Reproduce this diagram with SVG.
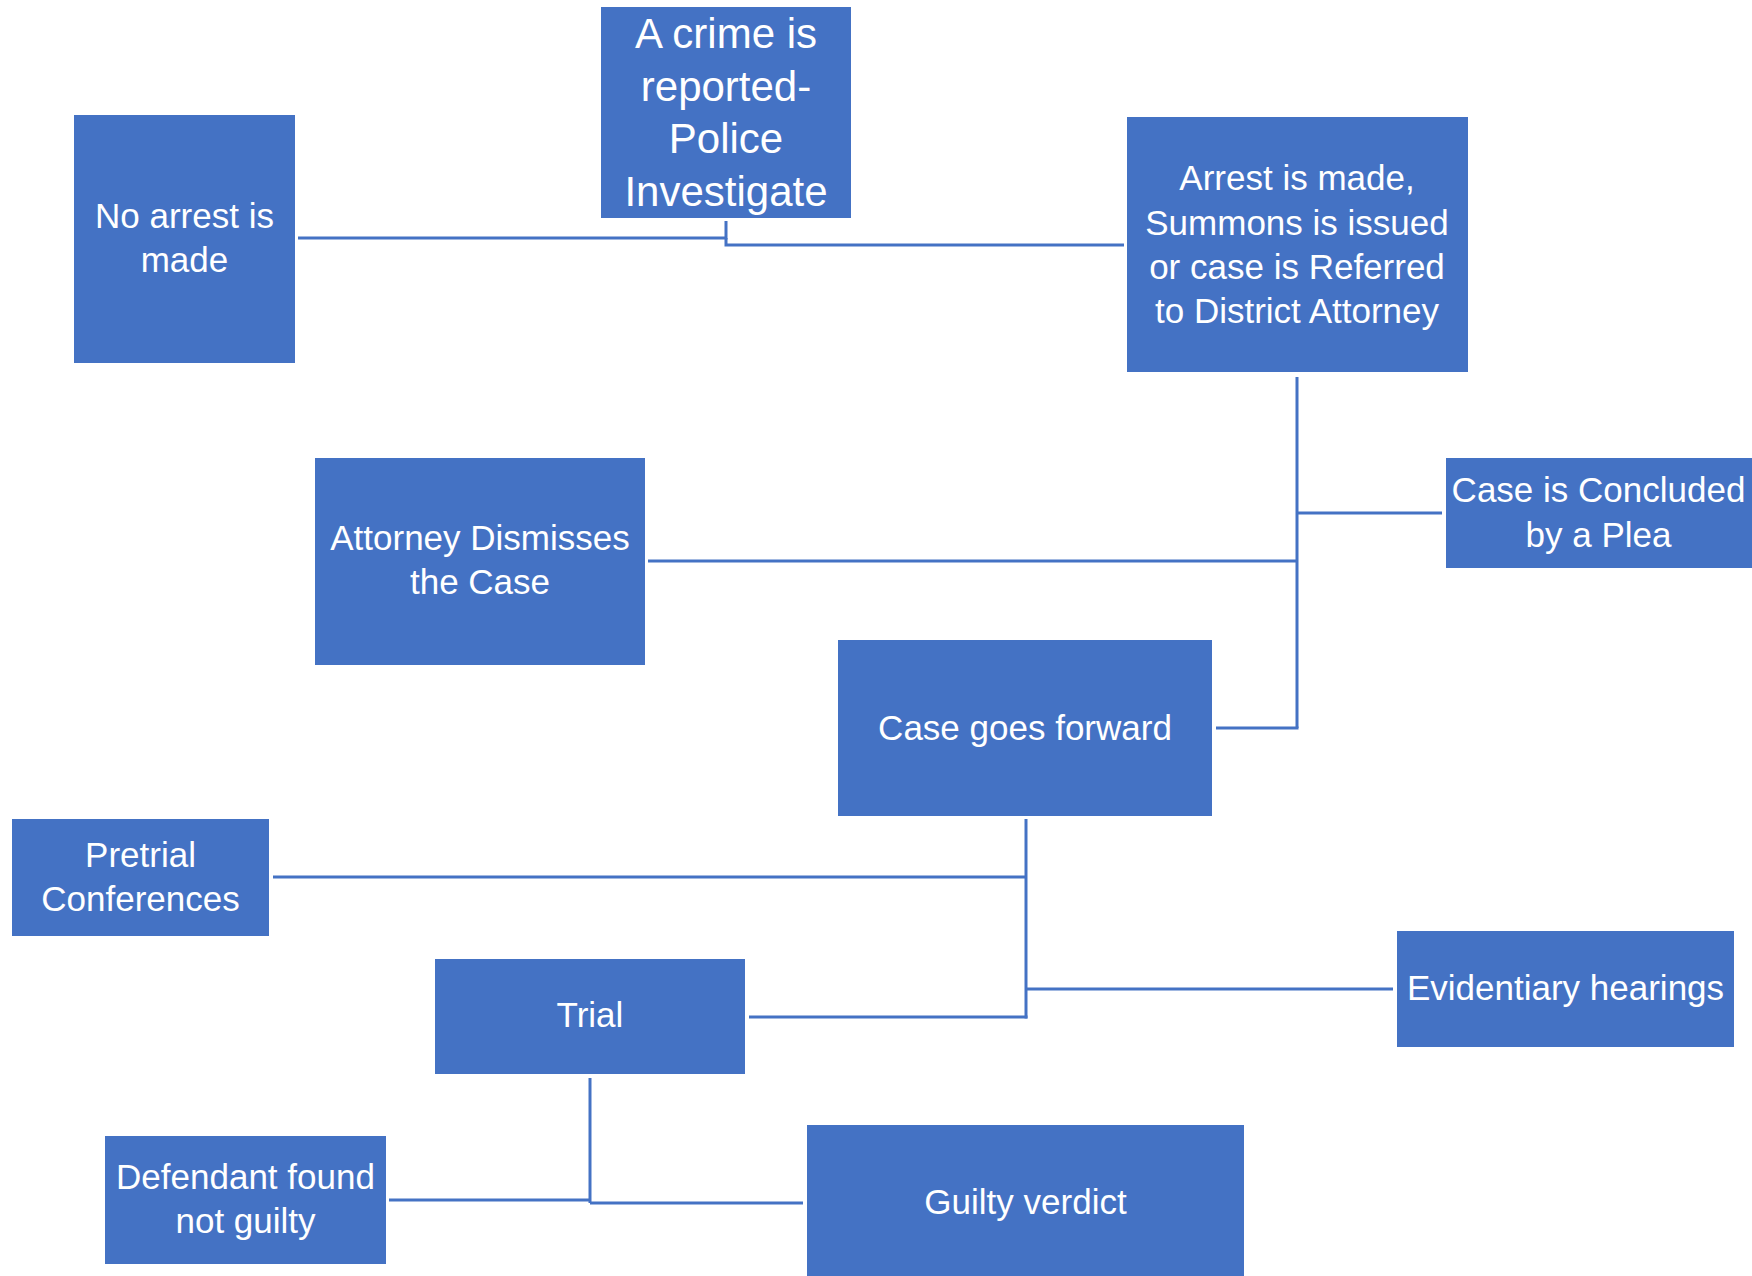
<svg xmlns="http://www.w3.org/2000/svg" width="1752" height="1276" viewBox="0 0 1752 1276">
<style>
.box{fill:#4472C4;}
.t{fill:#FFFFFF;font-family:"Liberation Sans",Arial,sans-serif;font-size:35px;text-anchor:middle;}
.big{font-size:42px;}
.c{fill:none;stroke:#4472C4;stroke-width:3;}
</style>
<rect width="1752" height="1276" fill="#FFFFFF"/>
<g id="connectors">
<polyline class="c" points="298,238 726,238 726,221"/>
<polyline class="c" points="726,238 726,245 1124,245"/>
<line class="c" x1="1297" y1="377" x2="1297" y2="728"/>
<line class="c" x1="1297" y1="513" x2="1442" y2="513"/>
<line class="c" x1="648" y1="561" x2="1297" y2="561"/>
<line class="c" x1="1216" y1="728" x2="1298.5" y2="728"/>
<line class="c" x1="1026" y1="819" x2="1026" y2="1018.5"/>
<line class="c" x1="273" y1="877" x2="1026" y2="877"/>
<line class="c" x1="1026" y1="989" x2="1393" y2="989"/>
<line class="c" x1="749" y1="1017" x2="1027.5" y2="1017"/>
<line class="c" x1="590" y1="1078" x2="590" y2="1203"/>
<line class="c" x1="389" y1="1200" x2="590" y2="1200"/>
<line class="c" x1="590" y1="1203" x2="803" y2="1203"/>
</g>
<g id="node-crime">
<rect class="box" x="601" y="7" width="250" height="211"/>
<text class="t big" x="726" y="48">A crime is</text>
<text class="t big" x="726" y="100.5">reported-</text>
<text class="t big" x="726" y="153">Police</text>
<text class="t big" x="726" y="205.5">Investigate</text>
</g>
<g id="node-no-arrest">
<rect class="box" x="74" y="115" width="221" height="248"/>
<text class="t" x="184.5" y="228">No arrest is</text>
<text class="t" x="184.5" y="272">made</text>
</g>
<g id="node-arrest">
<rect class="box" x="1127" y="117" width="341" height="255"/>
<text class="t" x="1297" y="190">Arrest is made,</text>
<text class="t" x="1297" y="234.5">Summons is issued</text>
<text class="t" x="1297" y="278.5">or case is Referred</text>
<text class="t" x="1297" y="323">to District Attorney</text>
</g>
<g id="node-dismiss">
<rect class="box" x="315" y="458" width="330" height="207"/>
<text class="t" x="480" y="550">Attorney Dismisses</text>
<text class="t" x="480" y="594">the Case</text>
</g>
<g id="node-plea">
<rect class="box" x="1446" y="458" width="306" height="110"/>
<text class="t" x="1598.5" y="502">Case is Concluded</text>
<text class="t" x="1598.5" y="547">by a Plea</text>
</g>
<g id="node-forward">
<rect class="box" x="838" y="640" width="374" height="176"/>
<text class="t" x="1025" y="740">Case goes forward</text>
</g>
<g id="node-pretrial">
<rect class="box" x="12" y="819" width="257" height="117"/>
<text class="t" x="140.5" y="867">Pretrial</text>
<text class="t" x="140.5" y="911">Conferences</text>
</g>
<g id="node-trial">
<rect class="box" x="435" y="959" width="310" height="115"/>
<text class="t" x="590" y="1027">Trial</text>
</g>
<g id="node-evidentiary">
<rect class="box" x="1397" y="931" width="337" height="116"/>
<text class="t" x="1565.5" y="1000">Evidentiary hearings</text>
</g>
<g id="node-not-guilty">
<rect class="box" x="105" y="1136" width="281" height="128"/>
<text class="t" x="245.5" y="1189">Defendant found</text>
<text class="t" x="245.5" y="1233">not guilty</text>
</g>
<g id="node-guilty">
<rect class="box" x="807" y="1125" width="437" height="151"/>
<text class="t" x="1025.5" y="1214">Guilty verdict</text>
</g>
</svg>
